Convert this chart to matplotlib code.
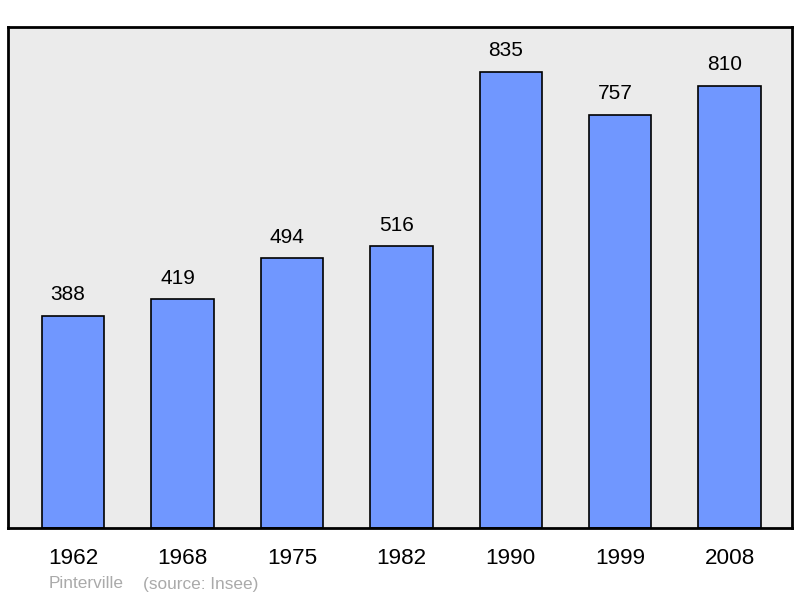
import matplotlib.pyplot as plt

# population data
years = ["1962", "1968", "1975", "1982", "1990", "1999", "2008"]
population = [388, 419, 494, 516, 835, 757, 810]

plt.rcParams['font.family'] = ['Liberation Sans', 'DejaVu Sans']

fig = plt.figure(figsize=(8, 5.98), dpi=100)
# axes box in pixels: x 8..792, y 27..528
ax = fig.add_axes([8 / 800, 1 - 528 / 598, 784 / 800, 501 / 598])
ax.set_facecolor("#ebebeb")

x = list(range(len(years)))
ax.bar(x, population, width=0.57, color="#7097ff", edgecolor="black", linewidth=1.2)

# value labels sit a little left of the bar centre
for xi, v in zip(x, population):
    ax.annotate(str(v), (xi, v), xytext=(-3.5, 8.5), textcoords="offset points",
                ha="center", va="bottom", fontsize=15)

ax.set_xlim(-0.594, 6.57)
ax.set_ylim(0, 918)
ax.set_yticks([])
ax.set_xticks(x)
ax.set_xticklabels(years, fontsize=16.2)
ax.tick_params(axis="x", length=0, pad=14.5)

for s in ax.spines.values():
    s.set_linewidth(2)
    s.set_color("black")

fig.text(49 / 800, 1 - 584 / 598, "Pinterville", color="#aaaaaa", fontsize=12.4, va="center")
fig.text(143 / 800, 1 - 584 / 598, "(source: Insee)", color="#aaaaaa", fontsize=12.4, va="center")

fig.savefig("out.png", dpi=100)
